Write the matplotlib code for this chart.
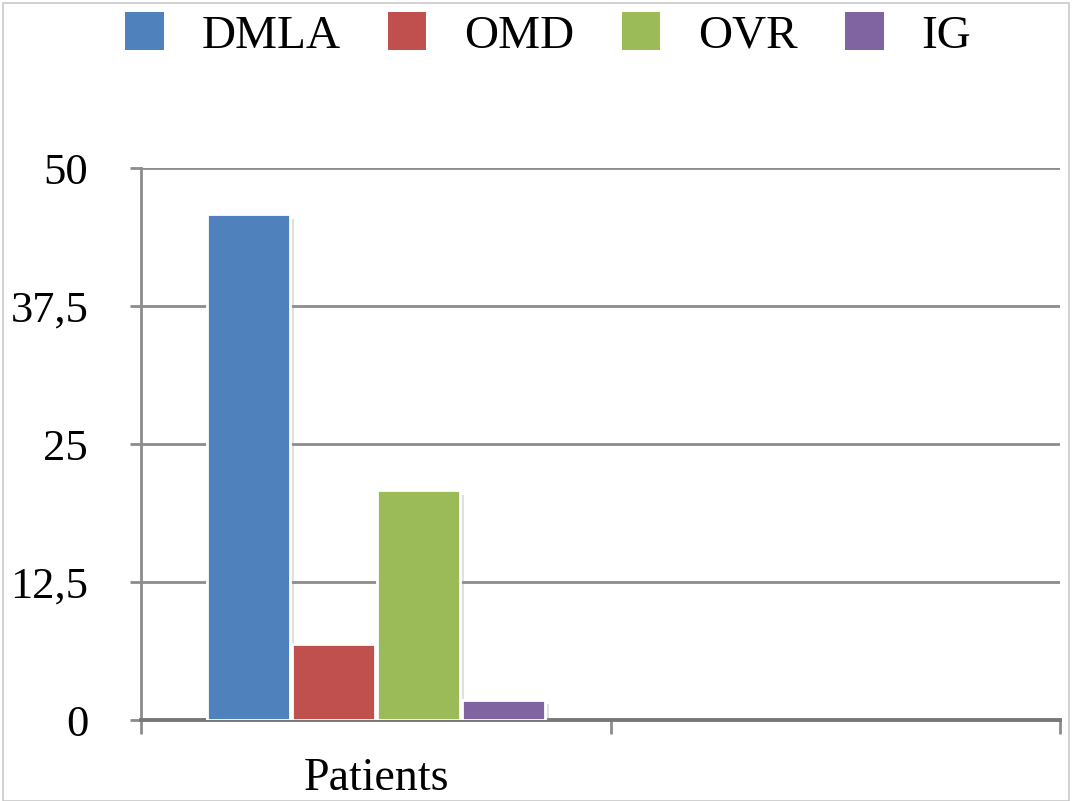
import matplotlib
matplotlib.use("Agg")
import matplotlib.pyplot as plt
from matplotlib.patches import Patch, Rectangle
import matplotlib.patheffects as pe

categories = ["Patients", ""]
series = ["DMLA", "OMD", "OVR", "IG"]
values = [45.8, 6.9, 20.8, 1.8]
colors = ["#4F81BD", "#C0504D", "#9BBB59", "#8064A2"]
yticks = [0, 12.5, 25, 37.5, 50]
ytick_labels = ["0", "12,5", "25", "37,5", "50"]

plt.rcParams['font.family'] = ['Liberation Serif', 'DejaVu Serif']

fig = plt.figure(figsize=(10.72, 8.01), dpi=100)
ax = fig.add_axes([141/1072, 81/801, (1060-141)/1072, (720-168)/801])

xmax = (1060 - 141) / (611 - 141)
step = 0.181
width = 0.176
n = len(series)
shadow = [pe.SimplePatchShadow(offset=(3, -3), shadow_rgbFace='#9a9a9a', alpha=0.3), pe.Normal()]
for i, (s, v, c) in enumerate(zip(series, values, colors)):
    x = 0.5 + (i - (n - 1) / 2) * step
    b = ax.bar(x, v, width=width, color=c, edgecolor='white', linewidth=2, zorder=3)
    for p in b:
        p.set_path_effects(shadow)

ax.set_xlim(0, xmax)
ax.set_ylim(0, 50)
ax.set_yticks(yticks)
ax.set_yticklabels(ytick_labels, fontsize=32)
ax.set_xticks([0, 1, xmax])
ax.set_xticklabels([])
for i, c in enumerate(categories):
    ax.text(i + 0.5, -6.3, c, ha='center', va='baseline', fontsize=33,
            transform=ax.transData)

grid_col = '#8c8c8c'
ax.yaxis.grid(True, color=grid_col, linewidth=2, zorder=0)
ax.set_axisbelow(True)
for sp in ['top', 'right']:
    ax.spines[sp].set_visible(False)
ax.spines['left'].set_color(grid_col)
ax.spines['left'].set_linewidth(2)
ax.spines['bottom'].set_color('#777777')
ax.spines['bottom'].set_linewidth(2.8)
ax.tick_params(axis='y', length=8, width=2, color=grid_col, pad=30)
ax.tick_params(axis='x', length=10, width=2, color=grid_col)

handles = [Patch(facecolor=c, edgecolor='none') for c in colors]
fig.legend(handles, series, loc='center', bbox_to_anchor=(548/1072, 1 - 35/801),
           ncol=4, frameon=False, fontsize=34, handlelength=0.82, handleheight=0.85,
           handletextpad=0.8, columnspacing=1.0)

fig.patches.append(Rectangle((0.003, 0.0), 0.994, 0.996, transform=fig.transFigure,
                             fill=False, edgecolor='#c8c8c8', linewidth=1.2))

fig.savefig("out.png", dpi=100)
